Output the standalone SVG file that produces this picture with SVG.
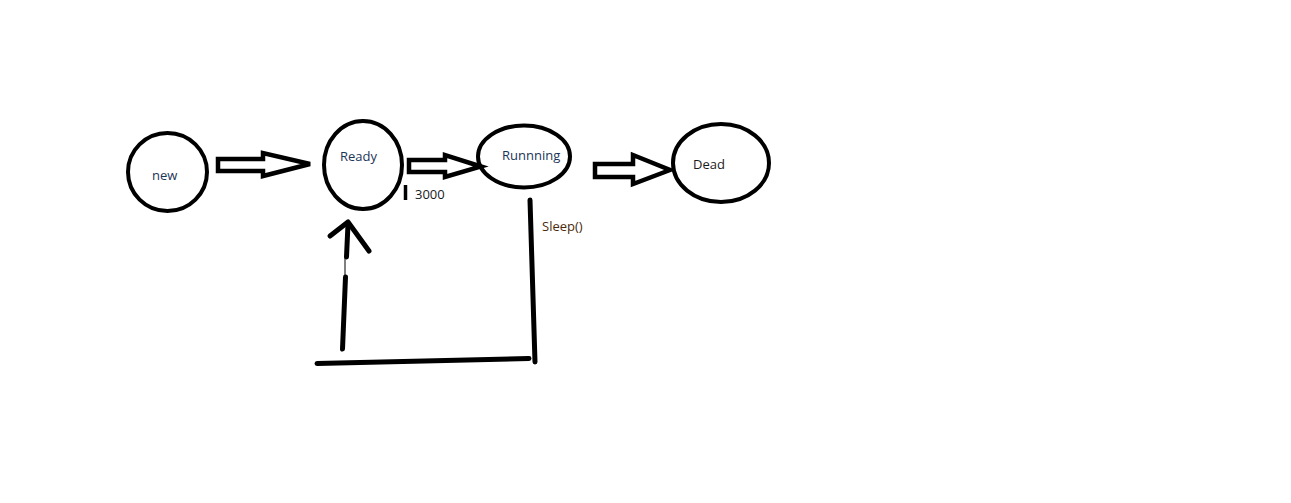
<svg xmlns="http://www.w3.org/2000/svg" width="1291" height="503" viewBox="0 0 1291 503">
<style>
.node{fill:none;stroke:#000;stroke-width:4}
.blk{fill:#fff;stroke:#000;stroke-width:4.5;stroke-linejoin:miter}
.ln{fill:none;stroke:#000;stroke-width:5;stroke-linecap:round}
text{font-family:"Open Sans","Noto Sans",sans-serif;font-size:13px}
.b{fill:#1b3558}
.k{fill:#1a1a1a}
.o{fill:#4a2a0a}
</style>
<rect width="1291" height="503" fill="#fff"/>
<g id="node-new"><ellipse class="node" cx="167.5" cy="172" rx="39.5" ry="39"/><text class="b" x="152" y="180">new</text></g>
<g id="node-ready"><ellipse class="node" cx="363" cy="165" rx="39" ry="44"/><text class="b" x="340" y="161">Ready</text></g>
<g id="node-running"><ellipse class="node" cx="524" cy="156.5" rx="46" ry="31"/><text class="b" x="502" y="160">Runnning</text></g>
<g id="node-dead"><ellipse class="node" cx="721" cy="163" rx="48" ry="39"/><text class="k" x="693" y="169">Dead</text></g>
<g id="connectors">
<polygon class="blk" points="218,159 263,159 263,153 310,164 263,176 263,171 218,171"/>
<polygon class="blk" points="409,160 445,160 445,155 481,166.5 445,177 445,172 409,172"/>
<polygon class="blk" points="595,164 633,164 633,155 670,170 633,184 633,177 595,177"/>
<line class="ln" x1="405.5" y1="185" x2="405.5" y2="200" style="stroke-linecap:butt;stroke-width:3.5"/>
<text class="k" x="415" y="199">3000</text>
<line class="ln" x1="530" y1="200" x2="535" y2="362"/>
<text class="o" x="542" y="231">Sleep()</text>
<line class="ln" x1="317" y1="363.5" x2="529" y2="358.5"/>
<line class="ln" x1="348" y1="224" x2="346.5" y2="257"/>
<line x1="345" y1="257" x2="345" y2="277" stroke="#000" stroke-width="1"/>
<line class="ln" x1="345.5" y1="277" x2="342.5" y2="349"/>
<polyline class="ln" points="330,236 348,222 369,251" style="stroke-linejoin:round"/>
</g>
</svg>
